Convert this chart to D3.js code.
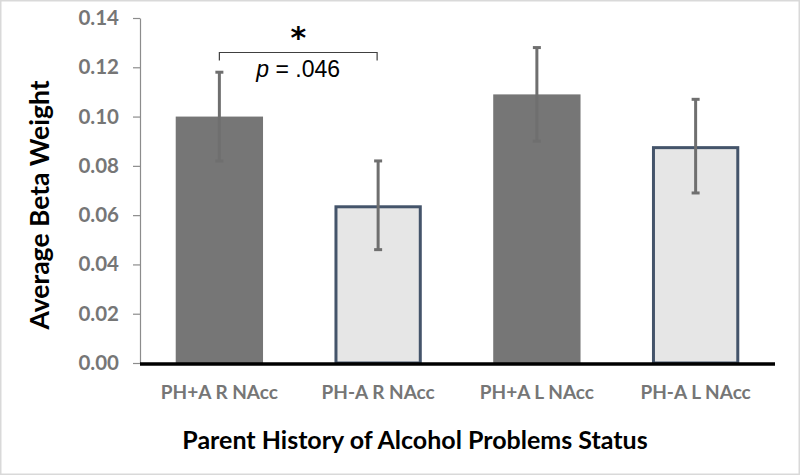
<!DOCTYPE html>
<html>
<head>
<meta charset="utf-8">
<script src="https://cdn.jsdelivr.net/npm/d3@7"></script>
<style>
  body { margin: 0; background: #fff; }
  svg { display: block; font-family: Lato, "Open Sans", sans-serif; }
</style>
</head>
<body>
<div id="chart"></div>
<script>
// data
var groups = ["PH+A R NAcc", "PH-A R NAcc", "PH+A L NAcc", "PH-A L NAcc"];
var means = [0.100, 0.064, 0.109, 0.088];
var errors = [0.018, 0.018, 0.019, 0.019];
var yTicks = [0, 0.02, 0.04, 0.06, 0.08, 0.10, 0.12, 0.14];
var pLabel = ".046";

var W = 800, H = 475;
var margin = {top: 18, right: 25, bottom: 112, left: 140},
  width = W - margin.left - margin.right,
  height = H - margin.top - margin.bottom;

var svg = d3.select("#chart")
  .append("svg")
    .attr("width", W)
    .attr("height", H);

// light frame around the picture
svg.append("rect")
  .attr("x", 0.5).attr("y", 0.5)
  .attr("width", W - 1).attr("height", H - 1)
  .style("fill", "#fff")
  .style("stroke", "#d9d9d9")
  .style("stroke-width", 2);

var g = svg.append("g")
  .attr("transform", "translate(" + margin.left + "," + margin.top + ")");

var x = d3.scaleBand()
  .domain(groups)
  .range([0, width])
  .paddingInner(0.45)
  .paddingOuter(0.225);

var y = d3.scaleLinear()
  .domain([0, 0.14])
  .range([height, 0]);

// y axis
var yAxis = g.append("g")
  .call(d3.axisLeft(y).tickValues(yTicks).tickFormat(d3.format(".2f")).tickSizeInner(7).tickSizeOuter(0));
yAxis.select(".domain").style("stroke", "#8c8c8c").style("stroke-width", 1.2);
yAxis.selectAll(".tick line").style("stroke", "#8c8c8c").style("stroke-width", 1.2);
yAxis.selectAll(".tick text")
  .attr("x", -21)
  .style("font-size", "20.5px")
  .style("font-weight", "bold")
  .style("fill", "#767676")
  .style("font-family", "Lato, sans-serif");

// bars
var isPlus = function(d) { return d.indexOf("+") >= 0; };

g.selectAll("rect.bar")
  .data(groups)
  .enter()
  .append("rect")
    .attr("class", "bar")
    .attr("x", function(d) { return x(d) + (isPlus(d) ? 0 : 1.5); })
    .attr("y", function(d, i) { return y(means[i]) + (isPlus(d) ? 0 : 1.5); })
    .attr("width", function(d) { return x.bandwidth() - (isPlus(d) ? 0 : 3); })
    .attr("height", function(d, i) { return height - y(means[i]) - (isPlus(d) ? 0 : 1.5); })
    .style("fill", function(d) { return isPlus(d) ? "#767676" : "#e6e6e6"; })
    .style("stroke", function(d) { return isPlus(d) ? "none" : "#44546a"; })
    .style("stroke-width", 3);

// error bars
var cx = function(d) { return x(d) + x.bandwidth() / 2; };
var eb = g.selectAll("g.err")
  .data(groups)
  .enter()
  .append("g")
    .attr("class", "err")
    .style("stroke", "#6f6f6f")
    .style("stroke-width", 3);

eb.append("line")
  .attr("x1", cx).attr("x2", cx)
  .attr("y1", function(d, i) { return y(means[i] + errors[i]); })
  .attr("y2", function(d, i) { return y(means[i] - errors[i]); });
eb.append("line")
  .attr("x1", function(d) { return cx(d) - 4; }).attr("x2", function(d) { return cx(d) + 4; })
  .attr("y1", function(d, i) { return y(means[i] + errors[i]); })
  .attr("y2", function(d, i) { return y(means[i] + errors[i]); });
eb.append("line")
  .attr("x1", function(d) { return cx(d) - 4; }).attr("x2", function(d) { return cx(d) + 4; })
  .attr("y1", function(d, i) { return y(means[i] - errors[i]); })
  .attr("y2", function(d, i) { return y(means[i] - errors[i]); });

// x axis baseline
g.append("line")
  .attr("x1", 0).attr("x2", width)
  .attr("y1", y(0) + 1).attr("y2", y(0) + 1)
  .style("stroke", "#000")
  .style("stroke-width", 3.5);

// category labels
g.selectAll("text.cat")
  .data(groups)
  .enter()
  .append("text")
    .attr("class", "cat")
    .attr("x", cx)
    .attr("y", height + 36)
    .attr("text-anchor", "middle")
    .style("font-size", "19px")
    .style("font-weight", "bold")
    .style("fill", "#767676")
    .text(function(d) { return d; });

// significance bracket
var bx1 = cx(groups[0]), bx2 = cx(groups[1]) - 1, by = y(0.126);
g.append("path")
  .attr("d", "M" + bx1 + "," + (by + 8) + "V" + by + "H" + bx2 + "V" + (by + 8))
  .style("fill", "none")
  .style("stroke", "#404040")
  .style("stroke-width", 1.2);

g.append("text")
  .attr("x", (bx1 + bx2) / 2)
  .attr("y", by - 5)
  .attr("text-anchor", "middle")
  .style("font-size", "30px")
  .style("font-weight", "bold")
  .style("fill", "#000")
  .style("font-family", "'DejaVu Sans', sans-serif")
  .text("*");

var pt = g.append("text")
  .attr("x", (bx1 + bx2) / 2)
  .attr("y", by + 24)
  .attr("text-anchor", "middle")
  .style("font-size", "23px")
  .style("fill", "#000")
  .style("font-family", "'Liberation Sans', Arial, sans-serif");
pt.append("tspan").style("font-style", "italic").text("p");
pt.append("tspan").text(" = " + pLabel);

// axis titles
svg.append("text")
  .attr("transform", "translate(49," + 205 + ") rotate(-90)")
  .attr("text-anchor", "middle")
  .style("font-size", "26.5px")
  .style("font-weight", "bold")
  .style("fill", "#000")
  .text("Average Beta Weight");

svg.append("text")
  .attr("x", 415)
  .attr("y", 449)
  .attr("text-anchor", "middle")
  .style("font-size", "25px")
  .style("font-weight", "bold")
  .style("fill", "#000")
  .text("Parent History of Alcohol Problems Status");
</script>
</body>
</html>
